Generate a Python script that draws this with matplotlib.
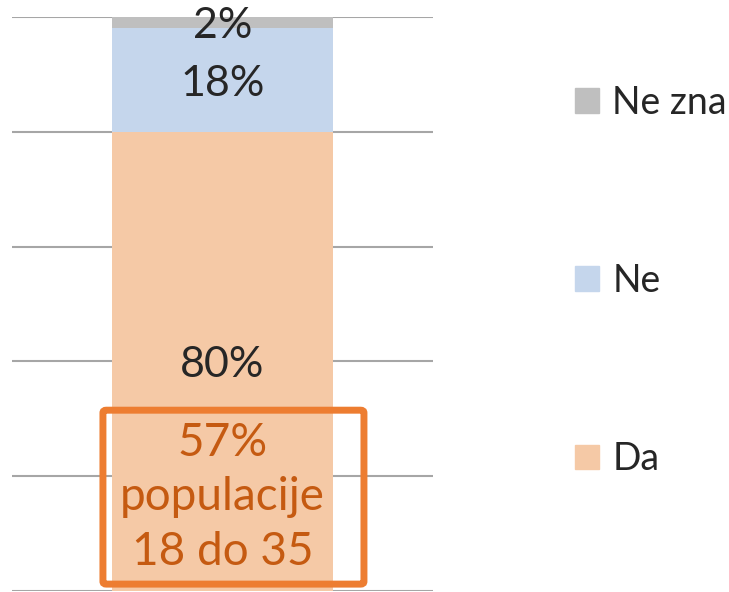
import matplotlib.pyplot as plt
from matplotlib.patches import FancyBboxPatch, Patch

plt.rcParams['font.family'] = ['Lato', 'DejaVu Sans']

# one stacked bar, bottom to top
categories = ['Da', 'Ne', 'Ne zna']
values = [80, 18, 2]
colors = ['#F5C9A6', '#C5D6EC', '#BFBFBF']
labels = ['80%', '18%', '2%']
note = '57%\npopulacije\n18 do 35'

fig = plt.figure(figsize=(7.29, 5.92), dpi=100)
ax = fig.add_axes([12 / 729, 1 / 592, 421 / 729, 574 / 592])

bottom = 0
for cat, val, col, lab in zip(categories, values, colors, labels):
    ax.bar(0, val, width=0.523, bottom=bottom, color=col, label=cat, zorder=2)
    ax.text(0, bottom + val / 2, lab, ha='center', va='center_baseline',
            fontsize=31, color='#262626', zorder=4)
    bottom += val

ax.set_xlim(-0.5, 0.5)
ax.set_ylim(0, 100)
ax.set_yticks(range(0, 101, 20))
ax.yaxis.grid(True, color='#A6A6A6', linewidth=1.5, zorder=1)
ax.set_xticks([])
ax.tick_params(left=False, labelleft=False)
for s in ax.spines.values():
    s.set_visible(False)
ax.set_axisbelow(True)

# highlight box around the youth share
box = FancyBboxPatch((-0.284, 1.2), 0.62, 30.3,
                     boxstyle='round,pad=0,rounding_size=0.008',
                     fill=False, edgecolor='#ED7D31', linewidth=5,
                     zorder=5, clip_on=False, mutation_aspect=60)
ax.add_patch(box)
ax.text(0, 16.3, note, ha='center', va='center', fontsize=33,
        color='#C55A11', linespacing=1.36, zorder=6)

handles = [Patch(color=c) for c in colors][::-1]
fig.legend(handles, categories[::-1], loc='center left',
           bbox_to_anchor=(575 / 729, 311 / 592), frameon=False,
           fontsize=27, labelcolor='#262626', borderpad=0, borderaxespad=0,
           handlelength=0.64, handleheight=0.64, handletextpad=0.35,
           labelspacing=3.79)

fig.savefig('out.png', dpi=100)
